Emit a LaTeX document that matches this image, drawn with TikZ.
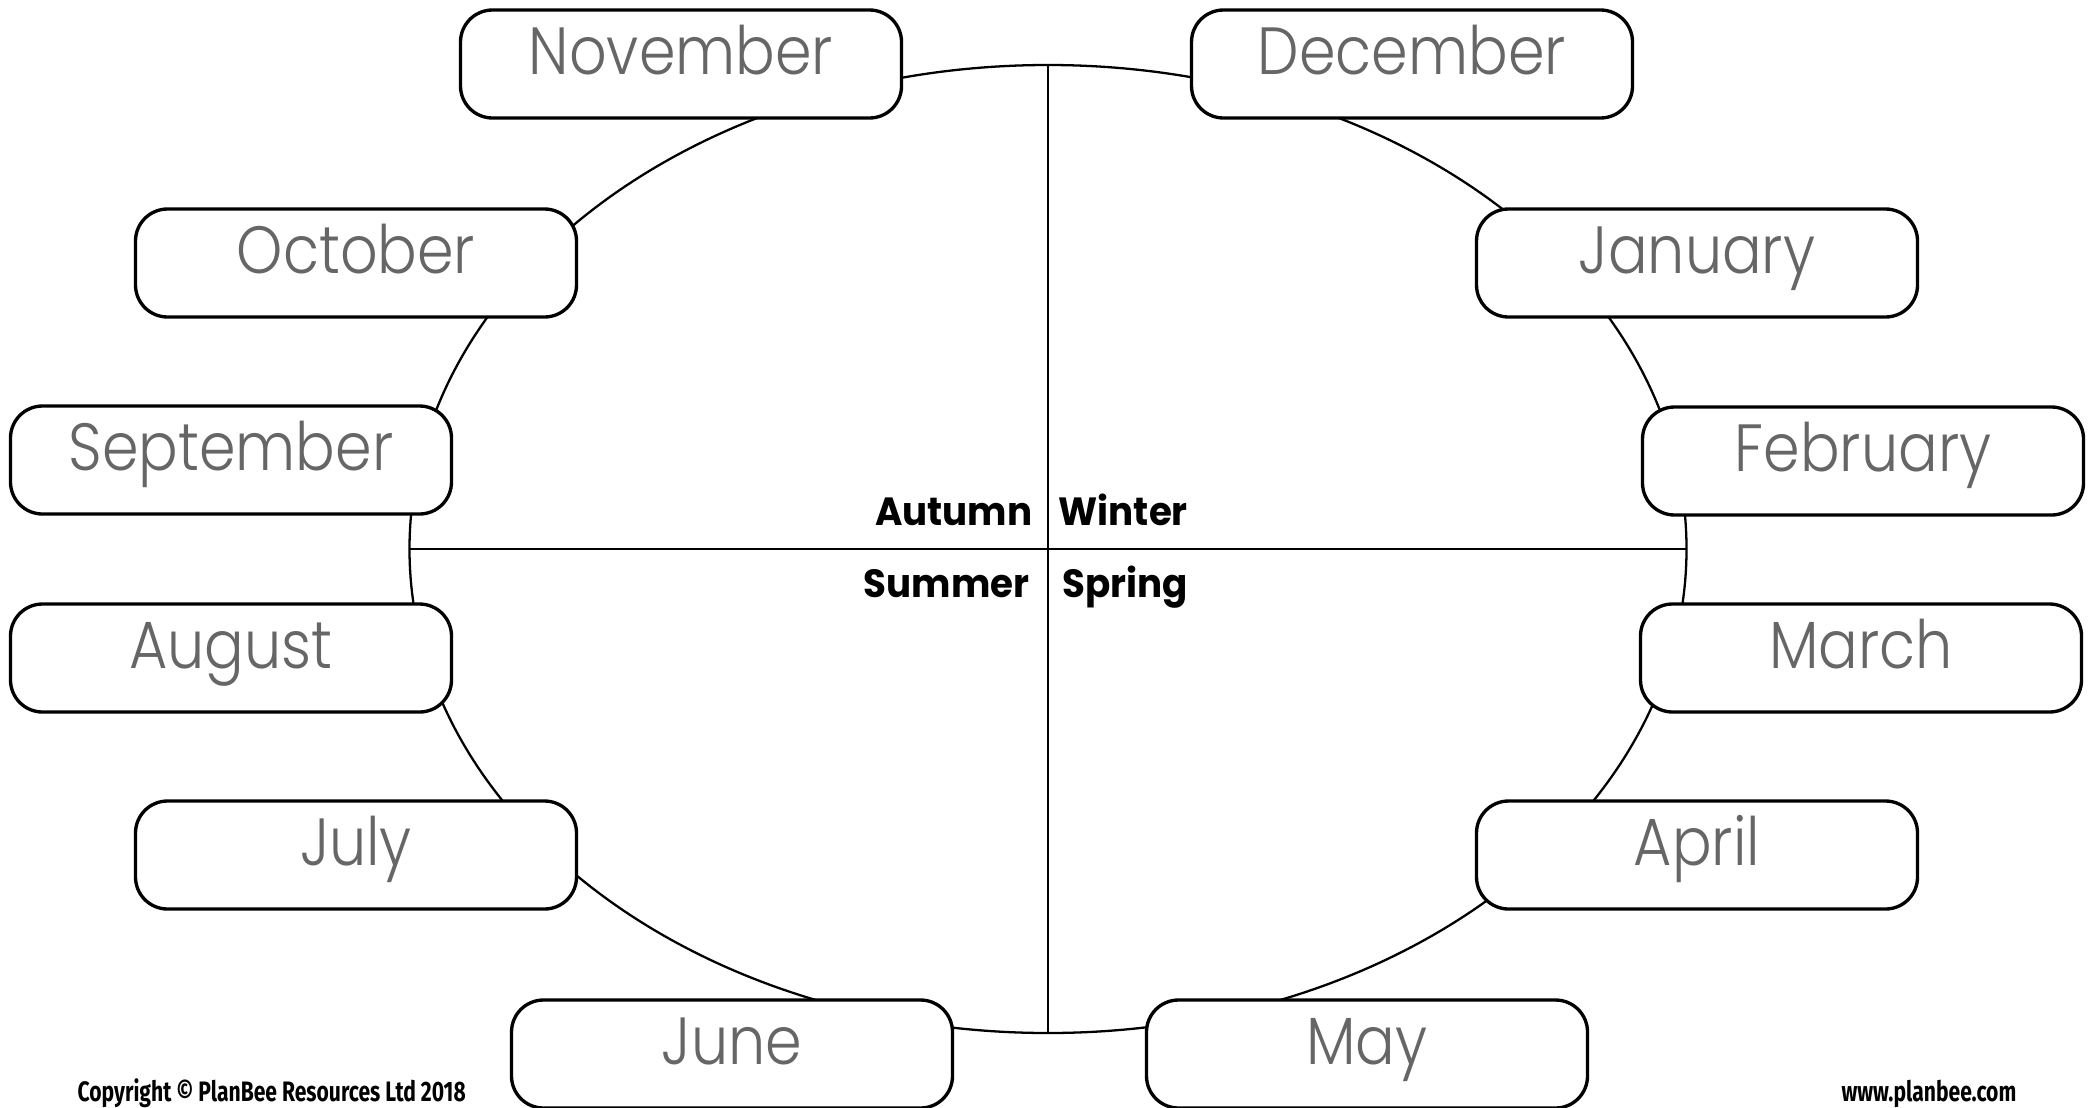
\documentclass[tikz,border=0pt]{standalone}
\usepackage{fontspec}
\newfontfamily\monthfont{Poppins}[UprightFont=* Light, FakeStretch=0.88]
\newfontfamily\seasonfont{Poppins}[FakeStretch=0.945]
\newfontfamily\notefont{Fira Sans}[FakeStretch=0.75]

\begin{document}
\begin{tikzpicture}[
    monthbox/.style={draw, line width=0.95pt, fill=white, rounded corners=0.32cm,
        minimum width=4.41cm, minimum height=1.08cm, inner sep=0pt,
        text height=0.55cm, text depth=0.35cm, text=black!60,
        font=\monthfont\fontsize{19}{19}\selectfont},
    seasonlabel/.style={inner sep=0pt, font=\seasonfont\bfseries\fontsize{11.2}{12}\selectfont},
    footnote/.style={inner sep=0pt, font=\notefont\bfseries\fontsize{8}{9}\selectfont}]
            \useasboundingbox (0,0) rectangle (20.96,11.07);

            % wheel and the quarters
            \coordinate (hub) at (10.48,5.58);
            \draw[line width=0.65pt] (hub) ellipse [x radius=6.385, y radius=4.84];
            \draw[line width=0.65pt] (hub) ++(-6.385,0) -- ++(12.77,0);
            \draw[line width=0.65pt] (hub) ++(0,4.84) -- ++(0,-9.68);

            \node[seasonlabel, anchor=base east] (autumn) at (10.33,5.82) {Autumn};
            \node[seasonlabel, anchor=base west] (winter) at (10.58,5.82) {Winter};
            \node[seasonlabel, anchor=base east] (summer) at (10.30,5.10) {Summer};
            \node[seasonlabel, anchor=base west] (spring) at (10.62,5.10) {Spring};

            % month boxes round the wheel
            \foreach \month/\x/\y in {November/6.81/10.43, December/14.12/10.43,
                    October/3.56/8.44, January/16.97/8.44,
                    September/2.31/6.47, February/18.63/6.46,
                    August/2.31/4.49, March/18.61/4.49,
                    July/3.56/2.52, April/16.97/2.52,
                    June/7.32/0.53, May/13.67/0.53}
                {
                    \node[monthbox] (\month) at (\x,\y) {\month};
                }

            \node[footnote, anchor=base west] (copyright) at (0.77,0.06)
                {Copyright \textcopyright{} PlanBee Resources Ltd 2018};
            \node[footnote, anchor=base east] (website) at (20.17,0.06) {www.planbee.com};
        \end{tikzpicture}
\end{document}
